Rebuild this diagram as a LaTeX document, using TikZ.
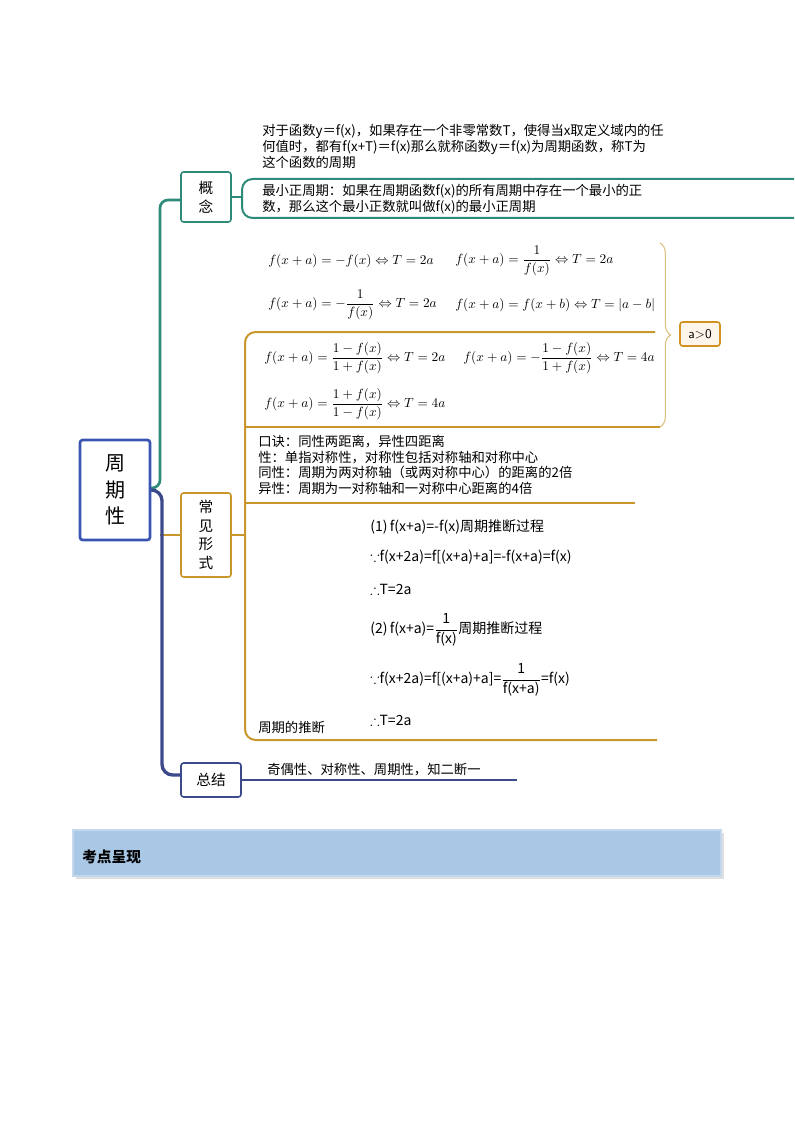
\documentclass[tikz,border=0pt]{standalone}
\usepackage{amsmath,amssymb}
\usepackage{fontspec}
\newfontfamily\cjk{Noto Sans CJK SC}
\usetikzlibrary{decorations.pathreplacing}
\definecolor{teal1}{HTML}{2E8B7A}
\definecolor{gold1}{HTML}{C8962A}
\definecolor{navy1}{HTML}{3C4A8C}
\definecolor{rootb}{HTML}{3A55B0}
\definecolor{banner}{HTML}{A9C8E6}
\begin{document}
\begin{tikzpicture}[x=0.75pt,y=-0.75pt,
  txt/.style={anchor=west,inner sep=0,font=\cjk\fontsize{10}{12}\selectfont,align=left},
  mth/.style={anchor=west,inner sep=0,font=\fontsize{10}{12}\selectfont},
  der/.style={anchor=west,inner sep=0,font=\cjk\fontsize{10.5}{12}\selectfont},
  boxst/.style={draw,line width=1.2pt,rounded corners=2pt,fill=white,font=\cjk\fontsize{11}{14}\selectfont,align=center,inner sep=0}]
\useasboundingbox (0,0) rectangle (794,1123);
% root connectors
\draw[teal1,line width=2pt,rounded corners=6pt] (150,488) -- (160,488) -- (160,200) -- (181,200);
\draw[gold1,line width=1.5pt] (160,535) -- (181,535);
\draw[navy1,line width=2.5pt,rounded corners=8pt] (150,490) -- (162,490) -- (162,775) -- (181,775);
% nodes
\node[boxst,draw=rootb,line width=2pt,minimum width=70pt*0.75,minimum height=100pt*0.75,font=\cjk\fontsize{15}{20}\selectfont] (root) at (115,490) {周\\期\\性};
\node[boxst,draw=teal1,minimum width=50*0.75pt,minimum height=50*0.75pt] (gn) at (206,197) {概\\念};
\node[boxst,draw=gold1,minimum width=50*0.75pt,minimum height=84*0.75pt] (cj) at (206,535) {常\\见\\形\\式};
\node[boxst,draw=navy1,minimum width=60*0.75pt,minimum height=34*0.75pt] (zj) at (211,780) {总结};
% concept bracket
\draw[teal1,line width=1.5pt,rounded corners=8pt] (794,179) -- (242,179) -- (242,218) -- (794,218);
\draw[teal1,line width=1.5pt] (gn.east) -- (242,197);
\node[txt] (t1) at (262,146) {对于函数y＝f(x)，如果存在一个非零常数T，使得当x取定义域内的任\\何值时，都有f(x+T)＝f(x)那么就称函数y＝f(x)为周期函数，称T为\\这个函数的周期};
\node[txt] (t2) at (262,199) {最小正周期：如果在周期函数f(x)的所有周期中存在一个最小的正\\数，那么这个最小正数就叫做f(x)的最小正周期};
% common forms
\draw[gold1,line width=1.5pt,rounded corners=8pt] (655,332) -- (245,332) -- (245,740) -- (657,740);
\draw[gold1,line width=1.5pt] (cj.east) -- (245,535);
\draw[gold1,line width=1.5pt] (660,427) -- (245,427);
\draw[gold1,line width=1.5pt] (635,503) -- (245,503);
\draw[navy1,line width=1pt] (zj.east) -- (517,780);
% brace
\draw[gold1!60,line width=0.8pt,decorate,decoration={brace,amplitude=8pt}] (660,243) -- (660,427);
\node[draw=gold1!80!orange,fill=orange!8,line width=1.2pt,rounded corners=2pt,minimum width=40*0.75pt,minimum height=24*0.75pt,inner sep=0,font=\sffamily\fontsize{10}{12}\selectfont] (apos) at (700,334) {a>0};
% formulas
\node[mth] (f1) at (268,261) {$f(x+a)=-f(x)\Leftrightarrow T=2a$};
\node[mth] (f2) at (455,261) {$f(x+a)=\dfrac{1}{f(x)}\Leftrightarrow T=2a$};
\node[mth] (f3) at (268,305) {$f(x+a)=-\dfrac{1}{f(x)}\Leftrightarrow T=2a$};
\node[mth] (f4) at (455,305) {$f(x+a)=f(x+b)\Leftrightarrow T=|a-b|$};
\node[mth] (f5) at (264,358) {$f(x+a)=\dfrac{1-f(x)}{1+f(x)}\Leftrightarrow T=2a$};
\node[mth] (f6) at (463,358) {$f(x+a)=-\dfrac{1-f(x)}{1+f(x)}\Leftrightarrow T=4a$};
\node[mth] (f7) at (264,404) {$f(x+a)=\dfrac{1+f(x)}{1-f(x)}\Leftrightarrow T=4a$};
\node[txt,font=\cjk\fontsize{10}{11.8}\selectfont] (kj) at (258,465) {口诀：同性两距离，异性四距离\\性：单指对称性，对称性包括对称轴和对称中心\\同性：周期为两对称轴（或两对称中心）的距离的2倍\\异性：周期为一对称轴和一对称中心距离的4倍};
% derivation
\node[der] (d1) at (370,527) {(1)\,f(x+a)=-f(x)周期推断过程};
\node[der] (d2) at (370,557) {$\because$f(x+2a)=f[(x+a)+a]=-f(x+a)=f(x)};
\node[der] (d3) at (370,589) {$\therefore$T=2a};
\node[der] (d4) at (370,630) {(2)\,f(x+a)=$\dfrac{\text{1}}{\text{f(x)}}$周期推断过程};
\node[der] (d5) at (370,680) {$\because$f(x+2a)=f[(x+a)+a]=$\dfrac{\text{1}}{\text{f(x+a)}}$=f(x)};
\node[der] (d6) at (370,720) {$\therefore$T=2a};
\node[txt] (tl) at (258,727) {周期的推断};
\node[txt] (zt) at (267,770) {奇偶性、对称性、周期性，知二断一};
% banner
\fill[gray!25] (76,833) rectangle (724,879);
\draw[banner!70!white,fill=banner,line width=1pt] (73,830) rectangle (721,876);
\node[txt,font=\cjk\bfseries\fontsize{11}{13}\selectfont] (kd) at (82,857) {考点呈现};
\end{tikzpicture}
\end{document}
